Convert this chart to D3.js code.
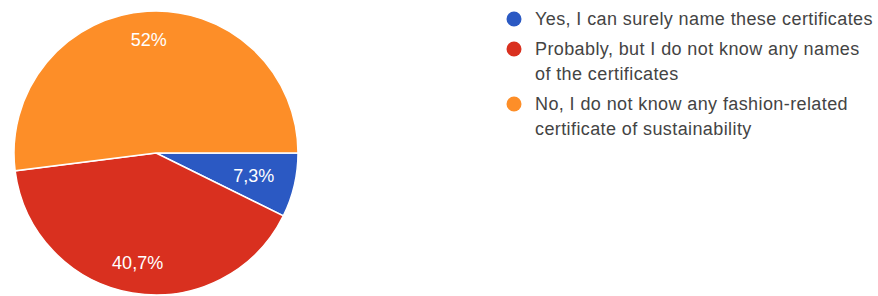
<!DOCTYPE html>
<html>
<head>
<meta charset="utf-8">
<script src="https://cdn.jsdelivr.net/npm/d3@7"></script>
<style>
  body { margin: 0; background: #fff; }
  svg { display: block; }
</style>
</head>
<body>
<svg id="chart" width="878" height="296"></svg>
<script>
const answers = [
    "Yes, I can surely name these certificates",
    "Probably, but I do not know any names of the certificates",
    "No, I do not know any fashion-related certificate of sustainability"
];
const shares = [7.3, 40.7, 52];
const shareLabels = ["7,3%", "40,7%", "52%"];
const legendLines = [
    ["Yes, I can surely name these certificates"],
    ["Probably, but I do not know any names", "of the certificates"],
    ["No, I do not know any fashion-related", "certificate of sustainability"]
];
const colors = ["#2b59c3", "#d9301f", "#fd8e28"];

function drawPie() {
    const svg = d3.select("#chart");
    const cx = 156, cy = 153, radius = 142;
    const labelOuter = 122; // outer edge of the label box
    const font = "Arial, 'Liberation Sans', sans-serif";

    const pie = d3.pie()
        .value((d) => d)
        .sort(null)
        .startAngle(Math.PI / 2)
        .endAngle(Math.PI / 2 + 2 * Math.PI);

    const arc = d3.arc().innerRadius(0).outerRadius(radius);

    const g = svg.append("g")
        .attr("transform", `translate(${cx}, ${cy})`);

    const slices = pie(shares);

    g.selectAll(".slice")
        .data(slices)
        .join("path")
        .attr("class", "slice")
        .attr("fill", (d, i) => colors[i])
        .attr("stroke", "#fff")
        .attr("stroke-width", 1.5)
        .attr("d", arc);

    // labels sit inside the slice, box pushed out to labelOuter
    g.selectAll(".pct")
        .data(slices)
        .join("text")
        .attr("class", "pct")
        .attr("text-anchor", "middle")
        .attr("dy", "0.36em")
        .attr("fill", "#fff")
        .style("font-family", font)
        .style("font-size", "18px")
        .text((d, i) => shareLabels[i])
        .each(function (d) {
            const box = this.getBBox();
            const a = (d.startAngle + d.endAngle) / 2;
            const ux = Math.sin(a), uy = -Math.cos(a);
            const support = Math.abs(ux) * box.width / 2 + Math.abs(uy) * 7;
            const dist = labelOuter - support;
            d3.select(this).attr("transform", `translate(${ux * dist}, ${uy * dist})`);
        });

    // legend
    const legend = svg.append("g")
        .attr("transform", "translate(514, 0)")
        .style("font-family", font)
        .style("font-size", "18px")
        .style("letter-spacing", "0.4px")
        .attr("fill", "#444");

    const rowTop = [19, 49, 104];
    const items = legend.selectAll("g")
        .data(answers)
        .join("g")
        .attr("transform", (d, i) => `translate(0, ${rowTop[i]})`);

    items.append("circle")
        .attr("r", 7.5)
        .attr("fill", (d, i) => colors[i]);

    items.append("text")
        .attr("y", 6)
        .selectAll("tspan")
        .data((d, i) => legendLines[i])
        .join("tspan")
        .attr("x", 21)
        .attr("dy", (d, j) => j === 0 ? 0 : 25)
        .text((d) => d);
}

drawPie();
</script>
</body>
</html>
